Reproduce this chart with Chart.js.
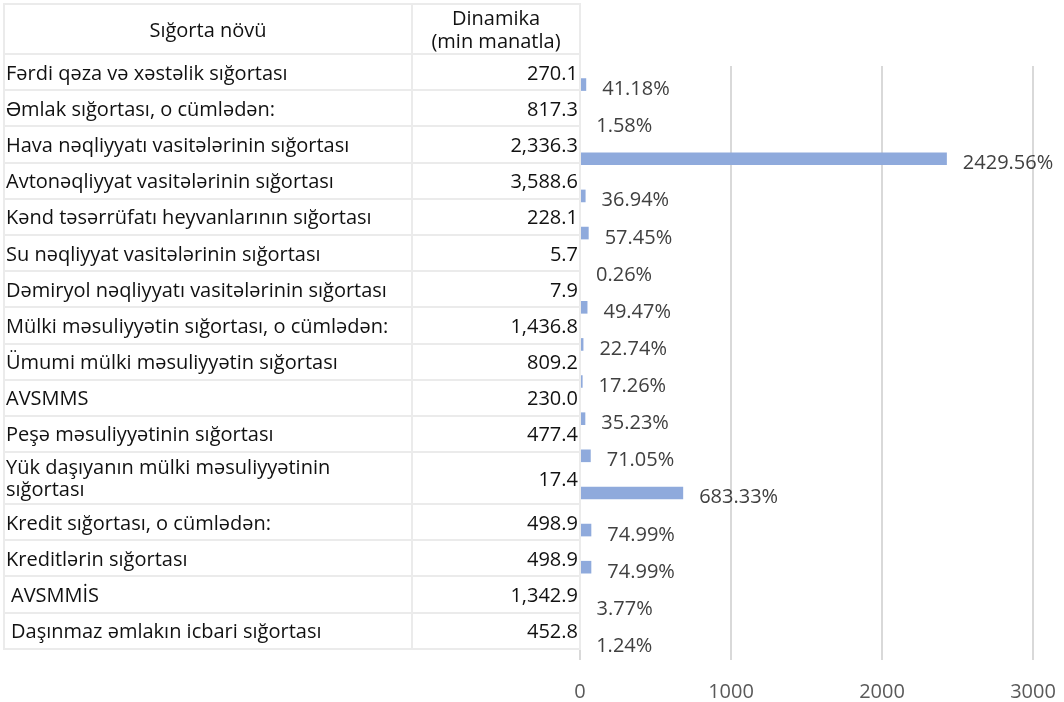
<!DOCTYPE html>
<html>
<head>
<meta charset="utf-8">
<script src="https://cdn.jsdelivr.net/npm/chart.js@4.4.0/dist/chart.umd.min.js"></script>
<style>
  html, body { margin: 0; padding: 0; background: #fff; }
  body { width: 1064px; height: 702px; position: relative; overflow: hidden; font-family: "Open Sans", sans-serif; }
  #chart { position: absolute; left: 0; top: 0; }
  #tbl { position: absolute; left: 3px; top: 3px; border-collapse: collapse; font-size: 20px; color: #111; }
  #tbl td, #tbl th { border: 2px solid #EBEBEB; padding: 0 1px; font-weight: normal; white-space: nowrap; line-height: 23px; overflow: visible; }
  #tbl th { height: 48px; text-align: center; }
  #tbl td { height: 34.2px; }
  #tbl td.name { width: 399px; text-align: left; }
  #tbl td.val { width: 164px; text-align: right; }
  #tbl td.indent { padding-left: 6px; }
  #tbl tr.tall td { height: 50px; }
  #tbl td.wrap { line-height: 22px; }
</style>
</head>
<body>
<canvas id="chart" width="1064" height="702"></canvas>
<table id="tbl"><tbody id="tbody"></tbody></table>
<script>
// Sığorta növləri
const categories = [
  'Fərdi qəza və xəstəlik sığortası',
  'Əmlak sığortası, o cümlədən:',
  'Hava nəqliyyatı vasitələrinin sığortası',
  'Avtonəqliyyat vasitələrinin sığortası',
  'Kənd təsərrüfatı heyvanlarının sığortası',
  'Su nəqliyyat vasitələrinin sığortası',
  'Dəmiryol nəqliyyatı vasitələrinin sığortası',
  'Mülki məsuliyyətin sığortası, o cümlədən:',
  'Ümumi mülki məsuliyyətin sığortası',
  'AVSMMS',
  'Peşə məsuliyyətinin sığortası',
  'Yük daşıyanın mülki məsuliyyətinin sığortası',
  'Kredit sığortası, o cümlədən:',
  'Kreditlərin sığortası',
  'AVSMMİS',
  'Daşınmaz əmlakın icbari sığortası'
];

// Dinamika (min manatla)
const amounts = [270.1, 817.3, 2336.3, 3588.6, 228.1, 5.7, 7.9, 1436.8, 809.2, 230.0, 477.4, 17.4, 498.9, 498.9, 1342.9, 452.8];

// artım, %
const growth = [41.18, 1.58, 2429.56, 36.94, 57.45, 0.26, 49.47, 22.74, 17.26, 35.23, 71.05, 683.33, 74.99, 74.99, 3.77, 1.24];

const xTicks = [0, 1000, 2000, 3000];

// build the table on the left
const tbody = document.getElementById('tbody');
let head = document.createElement('tr');
head.innerHTML = '<th>Sığorta növü</th><th>Dinamika<br>(min manatla)</th>';
tbody.appendChild(head);
categories.forEach(function (name, i) {
  const tr = document.createElement('tr');
  const td1 = document.createElement('td');
  td1.className = 'name';
  td1.textContent = name;
  if (name === 'AVSMMİS' || name.indexOf('Daşınmaz') === 0) td1.className += ' indent';
  if (name.indexOf('Yük') === 0) {
    tr.className = 'tall';
    td1.className += ' wrap';
    td1.innerHTML = 'Yük daşıyanın mülki məsuliyyətinin<br>sığortası';
  }
  const td2 = document.createElement('td');
  td2.className = 'val';
  td2.textContent = amounts[i].toLocaleString('en-US', { minimumFractionDigits: 1, maximumFractionDigits: 1 });
  tr.appendChild(td1);
  tr.appendChild(td2);
  tbody.appendChild(tr);
});

// percentage labels next to the bars
const barLabels = {
  id: 'barLabels',
  afterDatasetsDraw(chart) {
    const ctx = chart.ctx;
    const meta = chart.getDatasetMeta(0);
    ctx.save();
    ctx.font = '20px "Open Sans"';
    ctx.fillStyle = '#404040';
    ctx.textAlign = 'left';
    ctx.textBaseline = 'alphabetic';
    meta.data.forEach(function (bar, i) {
      ctx.fillText(growth[i].toFixed(2) + '%', bar.x + 16, bar.y + 10.5);
    });
    ctx.restore();
  }
};

const ctx = document.getElementById('chart').getContext('2d');
new Chart(ctx, {
  type: 'bar',
  data: {
    labels: categories,
    datasets: [{
      data: growth,
      backgroundColor: '#8FAADC',
      barPercentage: 0.34,
      categoryPercentage: 1.0,
    }]
  },
  options: {
    indexAxis: 'y',
    responsive: false,
    animation: false,
    layout: { padding: { left: 580, right: 31, top: 66, bottom: 0 } },
    plugins: { legend: { display: false }, tooltip: { enabled: false } },
    scales: {
      y: { display: false },
      x: {
        min: 0,
        max: 3000,
        afterBuildTicks: function (axis) { axis.ticks = xTicks.map(v => ({ value: v })); },
        afterFit: function (scale) {
          scale.height = 42;
          scale.paddingLeft = 0;
          scale.paddingRight = 0;
        },
        grid: { color: '#D9D9D9', lineWidth: 2, drawTicks: false },
        border: { display: false },
        ticks: {
          color: '#595959',
          padding: 22,
          font: { family: 'Open Sans', size: 20, lineHeight: 1.0 },
          maxRotation: 0,
          callback: function (v) { return String(v); },
        },
      },
    },
  },
  plugins: [barLabels],
});
</script>
</body>
</html>
